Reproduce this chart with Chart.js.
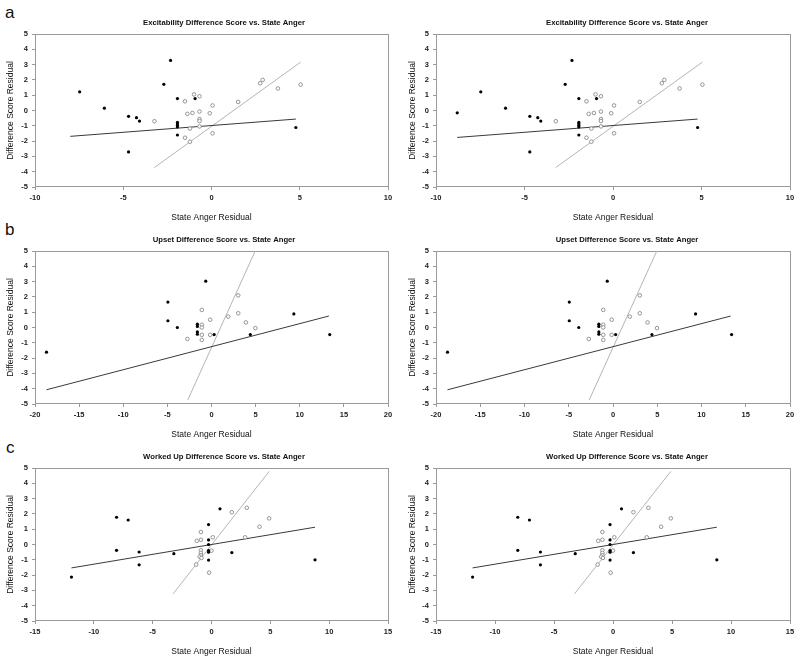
<!DOCTYPE html>
<html>
<head>
<meta charset="utf-8">
<script src="https://cdn.jsdelivr.net/npm/chart.js@4.4.0/dist/chart.umd.min.js"></script>
<style>
  body { margin: 0; background: #fff; }
  #page { position: relative; width: 800px; height: 662px; overflow: hidden; font-family: "Liberation Sans", Arial, sans-serif; }
  canvas { position: absolute; }
  .tag { position: absolute; font-size: 17px; line-height: 17px; color: #111; }
</style>
</head>
<body>
<div id="page">
  <span class="tag" style="left:5px;top:4px">a</span>
  <span class="tag" style="left:5px;top:221px">b</span>
  <span class="tag" style="left:6px;top:439px">c</span>
  <canvas id="a1" width="448" height="228" style="left:0;top:0"></canvas>
  <canvas id="a2" width="454" height="228" style="left:400px;top:0"></canvas>
  <canvas id="b1" width="448" height="228" style="left:0;top:217px"></canvas>
  <canvas id="b2" width="454" height="228" style="left:400px;top:217px"></canvas>
  <canvas id="c1" width="448" height="228" style="left:0;top:434px"></canvas>
  <canvas id="c2" width="454" height="228" style="left:400px;top:434px"></canvas>
</div>
<script>
// ---- chart text ----
const titles = [
  'Excitability Difference Score vs. State Anger',
  'Upset Difference Score vs. State Anger',
  'Worked Up Difference Score vs. State Anger'
];
const xTitle = 'State Anger Residual';
const yTitle = 'Difference Score Residual';

// ---- axis ranges ----
const yRange = [-5, 5];
const xRangeA = [-10, 10];
const xRangeB = [-20, 20];
const xRangeC = [-15, 15];

// ---- a: excitability ----
const excitFilled = [
  [-7.47, 1.22], [-6.07, 0.15], [-4.7, -0.38], [-4.25, -0.47], [-4.08, -0.69], [-4.7, -2.71],
  [-2.32, 3.27], [-2.7, 1.71], [-1.93, 0.78], [-0.93, 0.78], [-1.93, -0.78], [-1.93, -0.88],
  [-1.93, -0.98], [-1.93, -1.08], [-1.93, -1.6], [4.78, -1.11]
];
const excitFilledExtra = [[-8.8, -0.15]]; // only shown in the right-hand copy
const excitOpen = [
  [-3.23, -0.7], [-1.5, 0.6], [-1.5, -1.78], [-1.37, -0.22], [-1.22, -1.18], [-1.22, -2.04],
  [-1.08, -0.16], [-0.99, 1.05], [-0.68, 0.93], [-0.68, -0.07], [-0.68, -0.56], [-0.68, -0.69],
  [-0.68, -1.04], [-0.1, -0.18], [0.06, 0.33], [0.06, -1.49], [1.51, 0.56], [2.76, 1.78],
  [2.9, 2.0], [3.76, 1.44], [5.05, 1.69]
];
const excitFilledFitLeft = [[-8.0, -1.69], [4.78, -0.56]];
const excitFilledFitRight = [[-8.8, -1.76], [4.78, -0.56]];
const excitOpenFit = [[-3.24, -3.73], [5.05, 3.16]];

// ---- b: upset ----
const upsetFilled = [
  [-18.7, -1.61], [-4.94, 1.66], [-4.94, 0.44], [-3.87, 0.0], [-1.6, 0.22], [-1.6, 0.07],
  [-1.6, -0.29], [-1.6, -0.44], [-0.65, 3.03], [0.3, -0.46], [4.4, -0.46], [9.33, 0.89],
  [13.4, -0.46]
];
const upsetOpen = [
  [-2.73, -0.75], [-1.1, 1.15], [-1.1, 0.18], [-1.1, 0.0], [-1.1, -0.48], [-1.1, -0.81],
  [-0.15, 0.51], [-0.15, -0.48], [1.9, 0.71], [3.03, 2.1], [3.03, 0.93], [3.9, 0.33],
  [4.97, -0.04]
];
const upsetFilledFit = [[-18.7, -4.07], [13.3, 0.75]];
const upsetOpenFit = [[-2.7, -4.75], [4.95, 5.0]];

// ---- c: worked up ----
const workedFilled = [
  [-11.9, -2.13], [-8.07, 1.78], [-8.07, -0.38], [-7.08, 1.6], [-6.15, -0.49], [-6.15, -1.33],
  [-3.2, -0.6], [-0.25, 1.3], [-0.25, 0.3], [-0.25, 0.0], [-0.25, -0.4], [-0.25, -0.5],
  [-0.25, -1.02], [0.72, 2.33], [1.73, -0.53], [8.8, -1.0]
];
const workedOpen = [
  [-1.3, -1.31], [-1.25, 0.24], [-0.9, 0.82], [-0.9, 0.31], [-0.9, -0.38], [-0.9, -0.55],
  [-0.9, -0.7], [-1.0, -0.8], [-0.85, -0.88], [0.11, 0.47], [0.0, -0.4], [-0.2, -1.84],
  [1.73, 2.11], [3.0, 2.4], [4.08, 1.16], [4.9, 1.71], [2.86, 0.47]
];
const workedFilledFit = [[-11.9, -1.53], [8.8, 1.13]];
const workedOpenFit = [[-3.26, -3.22], [4.9, 4.78]];

// plot frame (grey box round the plot area)
const frame = {
  id: 'frame',
  beforeDatasetsDraw(chart) {
    const { ctx, chartArea: a } = chart;
    ctx.save();
    ctx.strokeStyle = '#9a9a9a';
    ctx.lineWidth = 1;
    ctx.strokeRect(Math.round(a.left) + 0.5, Math.round(a.top) + 0.5, Math.round(a.width), Math.round(a.height) - 1);
    ctx.restore();
  }
};

const toXY = pts => pts.map(([x, y]) => ({ x, y }));
const FONT = '"Liberation Sans", Arial, sans-serif';

function makePanel(id, cfg) {
  const left = cfg.col === 0;
  new Chart(document.getElementById(id), {
    type: 'scatter',
    data: {
      datasets: [
        { data: toXY(cfg.filled), pointRadius: 1.6, backgroundColor: '#000', borderColor: '#000', borderWidth: 0 },
        { data: toXY(cfg.open), pointRadius: 1.8, backgroundColor: '#fff', borderColor: '#8a8a8a', borderWidth: 0.9 },
        { data: toXY(cfg.filledFit), showLine: true, pointRadius: 0, borderColor: '#3a3a3a', borderWidth: 1 },
        { data: toXY(cfg.openFit), showLine: true, pointRadius: 0, borderColor: '#b4b4b4', borderWidth: 1 }
      ]
    },
    options: {
      responsive: false,
      animation: false,
      events: [],
      devicePixelRatio: 1,
      layout: { padding: 0 },
      plugins: {
        legend: { display: false },
        tooltip: { enabled: false },
        title: {
          display: true,
          text: cfg.title,
          color: '#111',
          font: { family: FONT, size: 7.7, weight: 'bold' },
          padding: { top: 18.4, bottom: 6.36 }
        }
      },
      scales: {
        x: {
          type: 'linear',
          min: cfg.xRange[0], max: cfg.xRange[1],
          ticks: { stepSize: 5, color: '#222', padding: 3.5, font: { family: FONT, size: 7.5, weight: 'bold' } },
          grid: { drawOnChartArea: false, tickLength: 3, color: '#9a9a9a' },
          border: { display: false },
          title: { display: true, text: xTitle, color: '#111', font: { family: FONT, size: 8.5 }, padding: { top: 0, bottom: 5.4 } },
          afterFit: s => { s.height = 41; }
        },
        y: {
          type: 'linear',
          min: yRange[0], max: yRange[1],
          ticks: { stepSize: 1, color: '#222', padding: 4, font: { family: FONT, size: 7.5, weight: 'bold' } },
          grid: { drawOnChartArea: false, tickLength: 3, color: '#9a9a9a' },
          border: { display: false },
          title: { display: true, text: yTitle, color: '#111', font: { family: FONT, size: 8.5 }, padding: { top: left ? 5.9 : 7.9, bottom: 0 } },
          afterFit: s => { s.width = left ? 35 : 36; }
        },
        // empty right-hand box: keeps the title centred where the reference has it
        yPad: {
          type: 'linear',
          position: 'right',
          ticks: { display: false },
          grid: { display: false },
          border: { display: false },
          afterFit: s => { s.width = left ? 60 : 64; }
        }
      }
    },
    plugins: [frame]
  });
}

makePanel('a1', { col: 0, title: titles[0], xRange: xRangeA, filled: excitFilled, open: excitOpen, filledFit: excitFilledFitLeft, openFit: excitOpenFit });
makePanel('a2', { col: 1, title: titles[0], xRange: xRangeA, filled: excitFilledExtra.concat(excitFilled), open: excitOpen, filledFit: excitFilledFitRight, openFit: excitOpenFit });
makePanel('b1', { col: 0, title: titles[1], xRange: xRangeB, filled: upsetFilled, open: upsetOpen, filledFit: upsetFilledFit, openFit: upsetOpenFit });
makePanel('b2', { col: 1, title: titles[1], xRange: xRangeB, filled: upsetFilled, open: upsetOpen, filledFit: upsetFilledFit, openFit: upsetOpenFit });
makePanel('c1', { col: 0, title: titles[2], xRange: xRangeC, filled: workedFilled, open: workedOpen, filledFit: workedFilledFit, openFit: workedOpenFit });
makePanel('c2', { col: 1, title: titles[2], xRange: xRangeC, filled: workedFilled, open: workedOpen, filledFit: workedFilledFit, openFit: workedOpenFit });
</script>
</body>
</html>
